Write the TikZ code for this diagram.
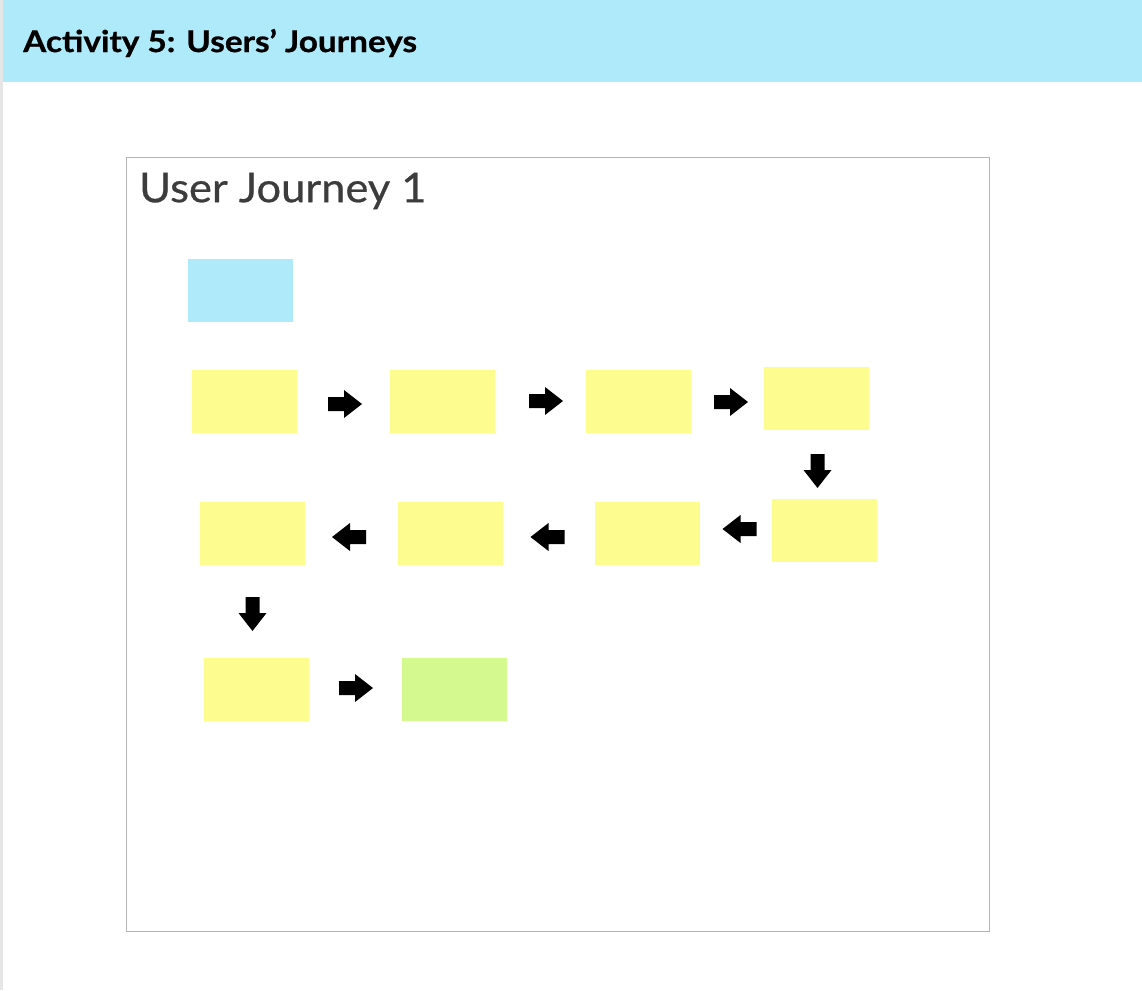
\documentclass[tikz,border=0pt]{standalone}
\usepackage{fontspec}
\setmainfont{Lato}
\newfontfamily\hdrfont[BoldFeatures={FakeBold=0.7}]{Lato}
\newfontfamily\ttlfont[FakeBold=0.6]{Lato}
\definecolor{hdrblue}{HTML}{AEEAF9}
\definecolor{stickyyellow}{HTML}{FCFC8F}
\definecolor{stickygreen}{HTML}{D4FA8F}
\definecolor{titlegray}{HTML}{3C3C3C}
\definecolor{framegray}{HTML}{B4B4B4}
\definecolor{edgegray}{HTML}{E6E6E6}
\tikzset{
  sticky/.style={fill=stickyyellow, draw=none, minimum width=105pt, minimum height=63pt, inner sep=0pt, anchor=north west},
  pics/barrow/.style={code={
    \fill[black] (-17pt,-7pt) -- (-1pt,-7pt) -- (-1pt,-14pt) -- (17pt,0pt) -- (-1pt,14pt) -- (-1pt,7pt) -- (-17pt,7pt) -- cycle;
  }}
}
\begin{document}
\begin{tikzpicture}[x=1pt,y=-1pt]
\useasboundingbox (0,0) rectangle (1142,990);
\fill[white] (0,0) rectangle (1142,990);
\fill[edgegray] (0,0) rectangle (3,990);
\fill[hdrblue] (3,0) rectangle (1142,82);
\node[anchor=west, inner sep=0pt, font=\hdrfont\fontsize{30}{32}\selectfont\bfseries] (hdr) at (23,43) {\scalebox{1.11}[1]{Activity 5: Users’ Journeys}};
\node[draw=framegray, line width=1pt, minimum width=863pt, minimum height=774pt, anchor=north west, inner sep=0pt] (frame) at (125.5,156.5) {};
\node[anchor=west, inner sep=0pt, text=titlegray, font=\ttlfont\fontsize{41}{44}\selectfont] (ttl) at (139,191) {\scalebox{1.06}[1]{User Journey 1}};
\node[sticky, fill=hdrblue] (b0) at (188,259) {};
\node[sticky] (a1) at (192,370) {};
\node[sticky] (a2) at (390,370) {};
\node[sticky] (a3) at (586,370) {};
\node[sticky] (a4) at (764,367) {};
\node[sticky] (c4) at (772,499) {};
\node[sticky] (c3) at (595,502) {};
\node[sticky] (c2) at (398,502) {};
\node[sticky] (c1) at (200,502) {};
\node[sticky] (d1) at (204,658) {};
\node[sticky, fill=stickygreen] (d2) at (402,658) {};
\pic at (345,404) {barrow};
\pic at (546,401) {barrow};
\pic at (731,402) {barrow};
\pic[rotate=-90] at (817.5,471) {barrow};
\pic[rotate=180] at (739.5,529) {barrow};
\pic[rotate=180] at (547.5,537) {barrow};
\pic[rotate=180] at (349,537) {barrow};
\pic[rotate=-90] at (252.5,614) {barrow};
\pic at (356,688) {barrow};
\end{tikzpicture}
\end{document}
